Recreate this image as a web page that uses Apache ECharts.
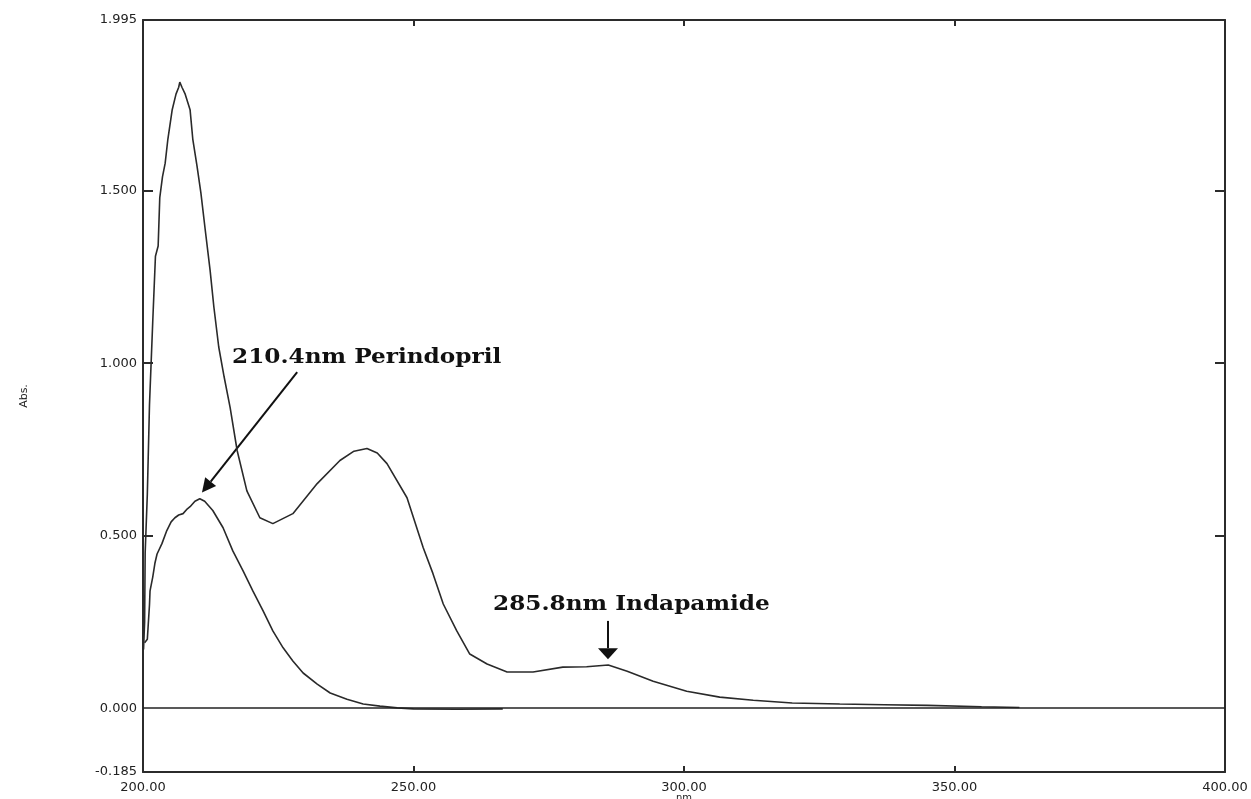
<!DOCTYPE html>
<html>
<head>
<meta charset="utf-8">
<script src="https://cdn.jsdelivr.net/npm/echarts@6/dist/echarts.min.js"></script>
<style>html,body{margin:0;padding:0;background:#fff;}#c{width:1251px;height:799px;}</style>
</head>
<body>
<div id="c"></div>
<script>
// Mixture spectrum (wavelength nm, absorbance)
var mixWl  = [200.1,200.3,200.4,200.8,201.2,201.8,202.3,202.8,203.1,203.6,204.1,204.6,205.4,206.1,206.6,206.8,207.2,207.8,208.7,209.2,210.0,210.7,211.5,212.4,213.1,214.0,215.0,216.1,217.4,219.2,221.6,224.0,227.7,232.2,236.4,239.0,241.4,243.3,245.1,248.8,251.8,253.6,255.5,258.0,260.4,263.6,267.3,272.1,277.6,282.0,286.0,289.5,294.3,300.5,306.6,312.8,320.0,328.8,337.0,345.0,355.0,362.0];
var mixAbs = [0.17,0.25,0.45,0.62,0.88,1.12,1.31,1.34,1.48,1.54,1.58,1.65,1.735,1.78,1.80,1.815,1.80,1.78,1.735,1.65,1.57,1.494,1.387,1.27,1.163,1.047,0.96,0.872,0.747,0.63,0.552,0.535,0.564,0.651,0.718,0.745,0.753,0.74,0.709,0.61,0.465,0.39,0.302,0.224,0.157,0.128,0.105,0.105,0.119,0.12,0.125,0.107,0.078,0.049,0.032,0.023,0.015,0.012,0.010,0.008,0.004,0.002];
// Perindopril spectrum
var perWl  = [200.3,200.8,201.2,201.3,201.8,202.2,202.6,203.5,204.4,205.2,205.9,206.6,207.4,208.2,208.7,209.6,210.5,211.4,212.9,214.8,216.6,218.5,220.3,222.2,224.0,225.9,227.7,229.6,232.2,234.6,237.7,240.7,243.8,247.0,250.0,258.0,266.5];
var perAbs = [0.19,0.20,0.30,0.34,0.38,0.42,0.447,0.477,0.515,0.54,0.552,0.56,0.564,0.578,0.584,0.60,0.607,0.60,0.573,0.523,0.456,0.398,0.34,0.282,0.224,0.175,0.137,0.102,0.07,0.044,0.026,0.012,0.006,0.001,-0.002,-0.003,-0.002];
// Axis tick labels
var yLabelValues = [-0.185, 0, 0.5, 1.0, 1.5, 1.995];
var yTickValues = [0.5, 1.0, 1.5];
var xMin = 200, xMax = 400, xStep = 50;
// Annotations (data coordinates)
var annoTexts = ['210.4nm Perindopril', '285.8nm Indapamide'];
var annoTextAt = [[216.45, 1.017], [264.7, 0.301]];
var annoArrowFrom = [[228.5, 0.974], [285.95, 0.253]];
var annoArrowTo = [[210.9, 0.625], [285.95, 0.142]];

function pairs(xs, ys){ return xs.map(function(x,i){ return [x, ys[i]]; }); }

var chart = echarts.init(document.getElementById('c'), null, {renderer:'canvas'});
var axisCol = '#2b2b2b';
var option = {
  animation:false,
  backgroundColor:'#fff',
  grid:{left:143, right:26, top:20, bottom:27, containLabel:false, outerBoundsMode:'none'},
  xAxis:[{
    type:'value', min:xMin, max:xMax, interval:xStep, position:'bottom',
    name:'nm', nameLocation:'middle', nameGap:21, nameMoveOverlap:false,
    nameTextStyle:{fontFamily:'DejaVu Sans', fontSize:10, color:'#222'},
    axisLine:{show:true, onZero:false, lineStyle:{color:axisCol, width:2}},
    axisTick:{show:true, inside:true, length:6, lineStyle:{color:axisCol, width:2}},
    axisLabel:{show:true, margin:9, fontFamily:'DejaVu Sans', fontSize:13, color:'#222',
      formatter:function(v){return v.toFixed(2);}},
    splitLine:{show:false}
  },{
    type:'value', min:xMin, max:xMax, interval:xStep, position:'top',
    axisLine:{show:true, onZero:false, lineStyle:{color:axisCol, width:2}},
    axisTick:{show:true, inside:true, length:6, lineStyle:{color:axisCol, width:2}},
    axisLabel:{show:false}, splitLine:{show:false}
  }],
  yAxis:[{
    type:'value', min:-0.185, max:1.995, position:'left',
    name:'Abs.', nameLocation:'middle', nameGap:113, nameRotate:90, nameMoveOverlap:false,
    nameTextStyle:{fontFamily:'DejaVu Sans', fontSize:11, color:'#222'},
    axisLine:{show:true, onZero:false, lineStyle:{color:axisCol, width:2}},
    axisTick:{show:true, inside:true, length:10, customValues:yTickValues, lineStyle:{color:axisCol, width:2}},
    axisLabel:{show:true, margin:6, customValues:yLabelValues, fontFamily:'DejaVu Sans', fontSize:13, color:'#222',
      formatter:function(v){return v.toFixed(3);}},
    splitLine:{show:false}
  },{
    type:'value', min:-0.185, max:1.995, position:'right',
    axisLine:{show:true, onZero:false, lineStyle:{color:axisCol, width:2}},
    axisTick:{show:true, inside:true, length:10, customValues:yTickValues, lineStyle:{color:axisCol, width:2}},
    axisLabel:{show:false}, splitLine:{show:false}
  }],
  series:[{
    name:'Mixture', type:'line', xAxisIndex:0, yAxisIndex:0,
    data:pairs(mixWl, mixAbs), showSymbol:false, symbol:'none', smooth:false,
    lineStyle:{color:'#2a2a2a', width:1.6},
    markLine:{silent:true, symbol:['none','none'], label:{show:false},
      lineStyle:{color:'#222', width:1.5, type:'solid'},
      data:[{yAxis:0}]}
  },{
    name:'Perindopril', type:'line', xAxisIndex:0, yAxisIndex:0,
    data:pairs(perWl, perAbs), showSymbol:false, symbol:'none', smooth:false,
    lineStyle:{color:'#2a2a2a', width:1.6}
  }]
};
chart.setOption(option);

// Annotations: text and arrows, positioned through the chart's scales
var g = [];
var arrowHead = [[14, 7], [11, 10]];
for (var i = 0; i < annoTexts.length; i++) {
  var tp = chart.convertToPixel({xAxisIndex:0, yAxisIndex:0}, annoTextAt[i]);
  g.push({type:'text', x:tp[0], y:tp[1], scaleX:1.16, scaleY:1.0, style:{text:annoTexts[i], fontFamily:'DejaVu Serif', fontWeight:'bold', fontSize:20, fill:'#111', textVerticalAlign:'middle', textAlign:'left'}});
  var a = chart.convertToPixel({xAxisIndex:0, yAxisIndex:0}, annoArrowFrom[i]);
  var b = chart.convertToPixel({xAxisIndex:0, yAxisIndex:0}, annoArrowTo[i]);
  var dx = b[0]-a[0], dy = b[1]-a[1], L = Math.sqrt(dx*dx+dy*dy);
  var ux = dx/L, uy = dy/L, px = -uy, py = ux;
  var len = arrowHead[i][0], hw = arrowHead[i][1];
  var bx = b[0]-ux*len, by = b[1]-uy*len;
  g.push({type:'line', shape:{x1:a[0], y1:a[1], x2:bx, y2:by}, style:{stroke:'#111', lineWidth:2}});
  g.push({type:'polygon', shape:{points:[[b[0],b[1]],[bx+px*hw, by+py*hw],[bx-px*hw, by-py*hw]]}, style:{fill:'#111'}});
}
chart.setOption({graphic:g});
</script>
</body>
</html>
